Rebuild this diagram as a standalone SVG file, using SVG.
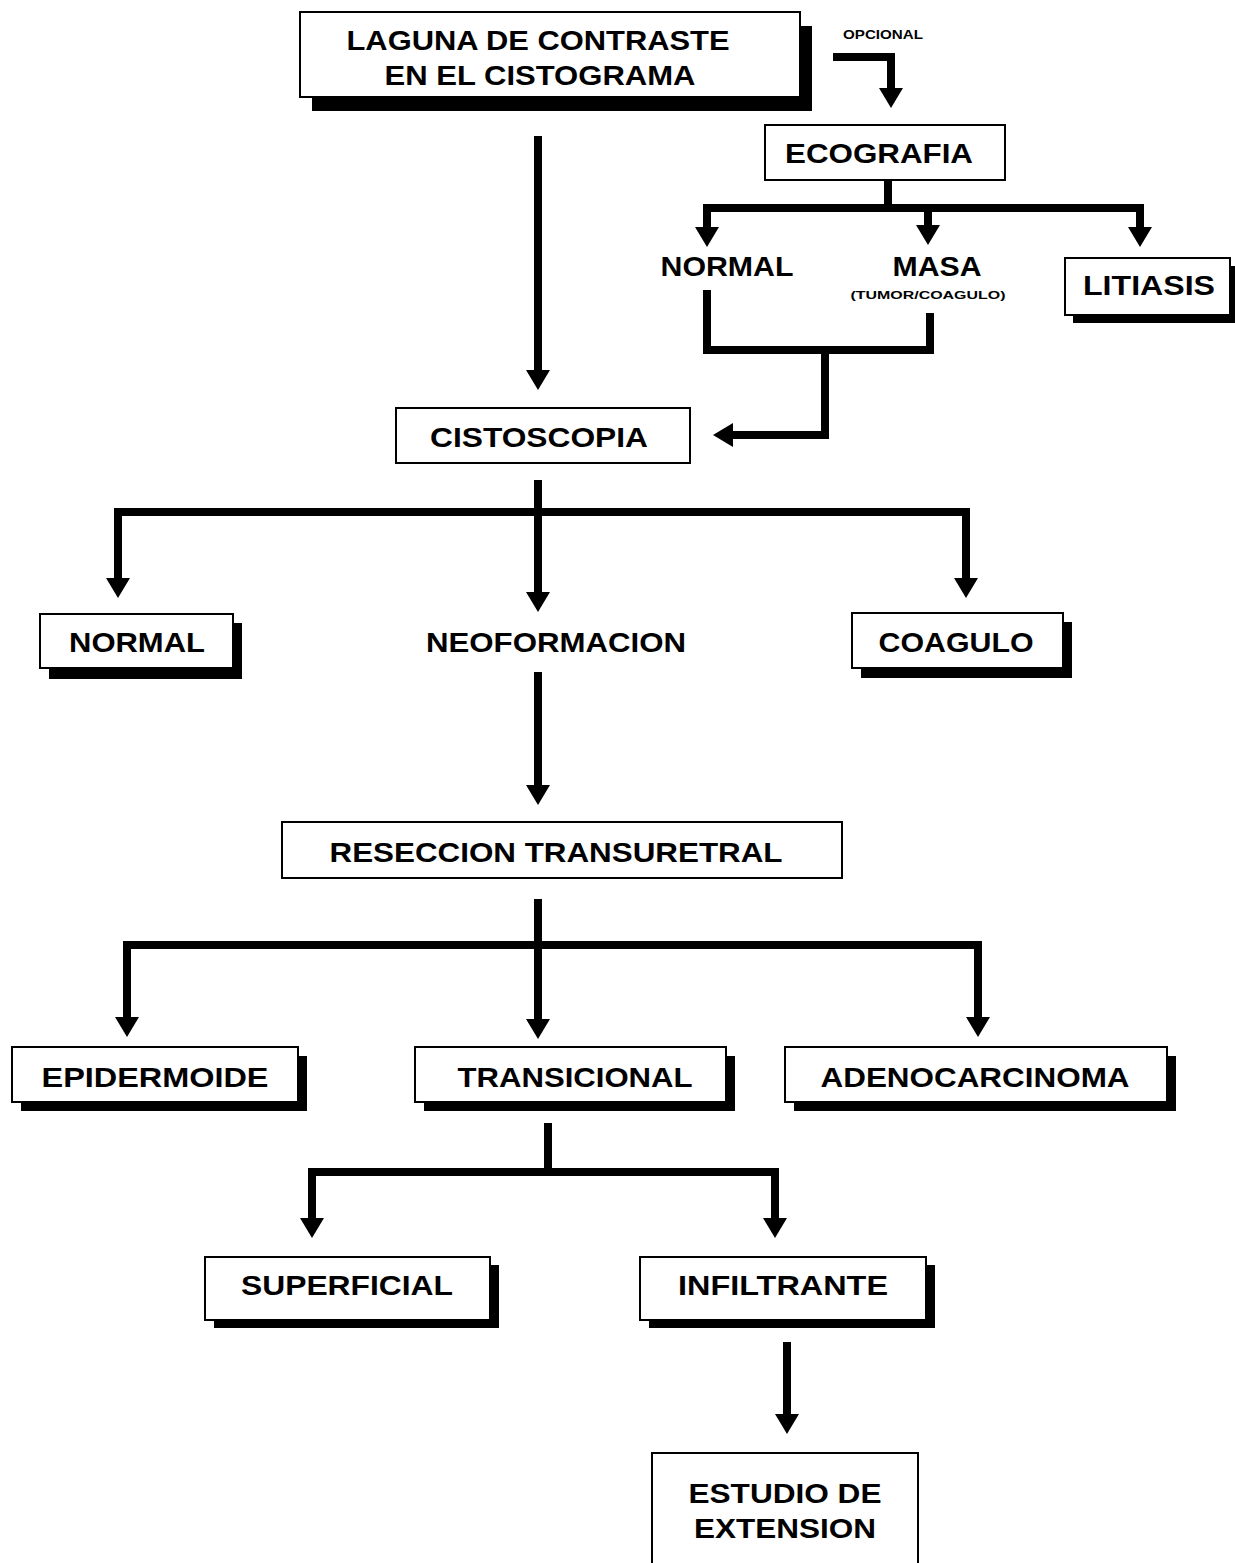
<svg xmlns="http://www.w3.org/2000/svg" width="1235" height="1563" viewBox="0 0 1235 1563">
  <defs>
    <marker id="arrow" viewBox="0 0 20 24" markerWidth="20" markerHeight="24" refX="0" refY="12" orient="auto" markerUnits="userSpaceOnUse">
      <path d="M0,0 L20,12 L0,24 Z" fill="#000"/>
    </marker>
    <style>
      .box { fill: #fff; stroke: #000; stroke-width: 2; }
      .shadow { fill: #000; }
      .lbl { font-family: "Liberation Sans", Arial, Helvetica, sans-serif; font-weight: bold; font-size: 28px; fill: #000; text-anchor: middle; }
      .small { font-size: 12px; }
      .tiny { font-size: 11px; }
      .conn { fill: none; stroke: #000; stroke-width: 8; stroke-linejoin: miter; stroke-linecap: square; }
      .arr { marker-end: url(#arrow); stroke-linecap: butt; }
    </style>
  </defs>
  <rect width="1235" height="1563" fill="#fff"/>

  <!-- connectors: elbows and branch bars, arrowheads via marker -->
  <g id="connectors">
    <path class="conn arr" d="M833,57 H891 V88"/>
    <path class="conn arr" d="M538,136 V370"/>

    <path class="conn" d="M888,184 V208"/>
    <path class="conn" d="M707,208 H1140"/>
    <path class="conn arr" d="M707,206 V227"/>
    <path class="conn arr" d="M928,208 V225"/>
    <path class="conn arr" d="M1140,206 V227"/>

    <path class="conn" d="M707,294 V350 H930 V317"/>
    <path class="conn arr" d="M825,350 V435 H733"/>

    <path class="conn arr" d="M538,480 V592"/>
    <path class="conn" d="M118,512 H966"/>
    <path class="conn arr" d="M118,510 V578"/>
    <path class="conn arr" d="M966,510 V578"/>

    <path class="conn arr" d="M538,672 V785"/>

    <path class="conn arr" d="M538,899 V1019"/>
    <path class="conn" d="M127,945 H978"/>
    <path class="conn arr" d="M127,943 V1017"/>
    <path class="conn arr" d="M978,943 V1017"/>

    <path class="conn" d="M548,1127 V1172"/>
    <path class="conn" d="M312,1172 H775"/>
    <path class="conn arr" d="M312,1170 V1218"/>
    <path class="conn arr" d="M775,1170 V1218"/>

    <path class="conn arr" d="M787,1342 V1414"/>
  </g>

  <g id="laguna">
    <rect class="shadow" x="312" y="26" width="500" height="85"/>
    <rect class="box" x="300" y="12" width="500" height="85"/>
    <text class="lbl" x="538" y="50" textLength="383" lengthAdjust="spacingAndGlyphs">LAGUNA DE CONTRASTE</text>
    <text class="lbl" x="540" y="85" textLength="311" lengthAdjust="spacingAndGlyphs">EN EL CISTOGRAMA</text>
  </g>

  <g id="opcional">
    <text class="lbl small" x="883" y="39" textLength="80" lengthAdjust="spacingAndGlyphs">OPCIONAL</text>
  </g>

  <g id="ecografia">
    <rect class="box" x="765" y="125" width="240" height="55"/>
    <text class="lbl" x="879" y="163" textLength="188" lengthAdjust="spacingAndGlyphs">ECOGRAFIA</text>
  </g>

  <g id="eco-normal">
    <text class="lbl" x="727" y="276" textLength="133" lengthAdjust="spacingAndGlyphs">NORMAL</text>
  </g>

  <g id="masa">
    <text class="lbl" x="937" y="276" textLength="89" lengthAdjust="spacingAndGlyphs">MASA</text>
    <text class="lbl tiny" x="928" y="299" textLength="155" lengthAdjust="spacingAndGlyphs">(TUMOR/COAGULO)</text>
  </g>

  <g id="litiasis">
    <rect class="shadow" x="1073" y="266" width="170" height="57"/>
    <rect class="box" x="1065" y="258" width="165" height="57"/>
    <text class="lbl" x="1149" y="295" textLength="132" lengthAdjust="spacingAndGlyphs">LITIASIS</text>
  </g>

  <g id="cistoscopia">
    <rect class="box" x="396" y="408" width="294" height="55"/>
    <text class="lbl" x="539" y="447" textLength="218" lengthAdjust="spacingAndGlyphs">CISTOSCOPIA</text>
  </g>

  <g id="normal">
    <rect class="shadow" x="49" y="623" width="193" height="56"/>
    <rect class="box" x="40" y="614" width="193" height="54"/>
    <text class="lbl" x="137" y="652" textLength="136" lengthAdjust="spacingAndGlyphs">NORMAL</text>
  </g>

  <g id="neoformacion">
    <text class="lbl" x="556" y="652" textLength="260" lengthAdjust="spacingAndGlyphs">NEOFORMACION</text>
  </g>

  <g id="coagulo">
    <rect class="shadow" x="861" y="622" width="211" height="56"/>
    <rect class="box" x="852" y="613" width="211" height="55"/>
    <text class="lbl" x="956" y="652" textLength="155" lengthAdjust="spacingAndGlyphs">COAGULO</text>
  </g>

  <g id="reseccion">
    <rect class="box" x="282" y="822" width="560" height="56"/>
    <text class="lbl" x="556" y="862" textLength="453" lengthAdjust="spacingAndGlyphs">RESECCION TRANSURETRAL</text>
  </g>

  <g id="epidermoide">
    <rect class="shadow" x="21" y="1056" width="286" height="55"/>
    <rect class="box" x="12" y="1047" width="286" height="55"/>
    <text class="lbl" x="155" y="1087" textLength="227" lengthAdjust="spacingAndGlyphs">EPIDERMOIDE</text>
  </g>

  <g id="transicional">
    <rect class="shadow" x="424" y="1056" width="311" height="55"/>
    <rect class="box" x="415" y="1047" width="311" height="55"/>
    <text class="lbl" x="575" y="1087" textLength="235" lengthAdjust="spacingAndGlyphs">TRANSICIONAL</text>
  </g>

  <g id="adenocarcinoma">
    <rect class="shadow" x="794" y="1056" width="382" height="55"/>
    <rect class="box" x="785" y="1047" width="382" height="55"/>
    <text class="lbl" x="975" y="1087" textLength="309" lengthAdjust="spacingAndGlyphs">ADENOCARCINOMA</text>
  </g>

  <g id="superficial">
    <rect class="shadow" x="214" y="1265" width="285" height="63"/>
    <rect class="box" x="205" y="1257" width="285" height="63"/>
    <text class="lbl" x="347" y="1295" textLength="212" lengthAdjust="spacingAndGlyphs">SUPERFICIAL</text>
  </g>

  <g id="infiltrante">
    <rect class="shadow" x="649" y="1265" width="286" height="63"/>
    <rect class="box" x="640" y="1257" width="286" height="63"/>
    <text class="lbl" x="783" y="1295" textLength="210" lengthAdjust="spacingAndGlyphs">INFILTRANTE</text>
  </g>

  <g id="estudio">
    <rect class="box" x="652" y="1453" width="266" height="120"/>
    <text class="lbl" x="785" y="1503" textLength="193" lengthAdjust="spacingAndGlyphs">ESTUDIO DE</text>
    <text class="lbl" x="785" y="1538" textLength="182" lengthAdjust="spacingAndGlyphs">EXTENSION</text>
  </g>
</svg>
